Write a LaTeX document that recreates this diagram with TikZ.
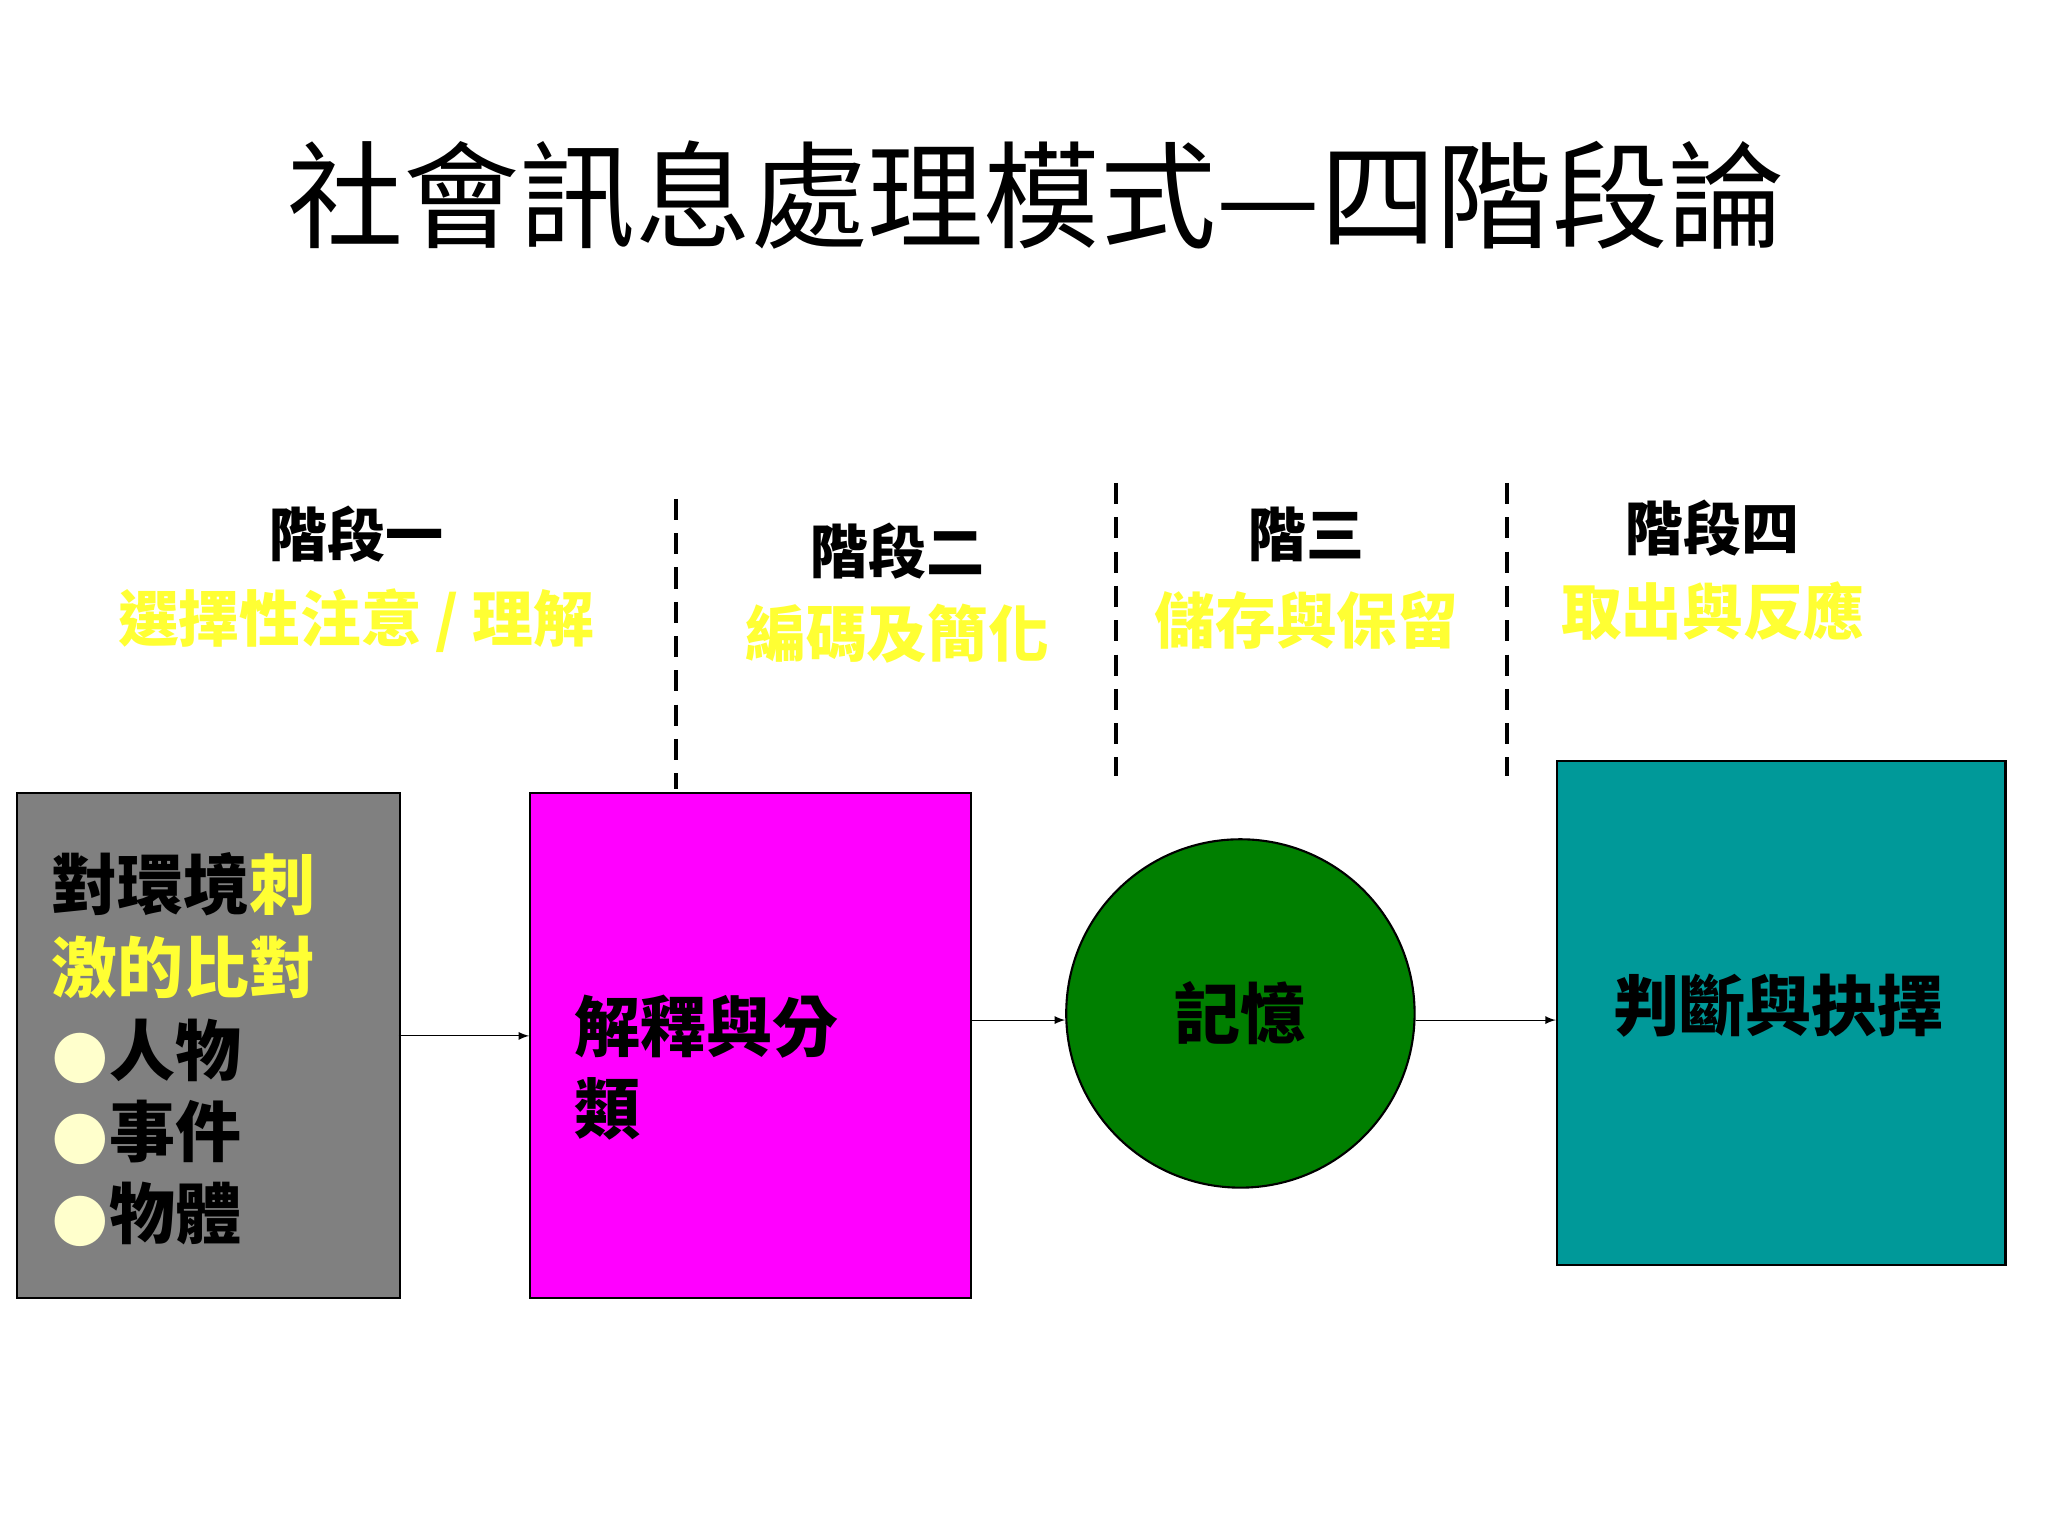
\documentclass[tikz,border=0pt]{standalone}
\usepackage{fontspec}
\setmainfont{Noto Sans CJK TC}
\newfontfamily\cjkb[BoldFont={* Bold}]{Noto Sans CJK TC}
\newfontfamily\symf{DejaVu Sans}
\definecolor{yel}{HTML}{FFFF33}
\definecolor{bul}{HTML}{FFFFCC}
\definecolor{grayf}{HTML}{808080}
\definecolor{mag}{HTML}{FF00FF}
\definecolor{grn}{HTML}{007F00}
\definecolor{teal2}{HTML}{009999}
\begin{document}
\begin{tikzpicture}[x=0.5pt,y=-0.5pt,
  stagelbl/.style={font=\fontsize{22}{26}\selectfont\bfseries},
  yellbl/.style={font=\fontsize{23}{27}\selectfont\bfseries,text=yel},
  dline/.style={line width=1.6pt,dash pattern=on 8pt off 5pt},
  boxtxt/.style={font=\fontsize{25}{31}\selectfont\bfseries},
  arr/.style={-latex}]
\useasboundingbox (0,0) rectangle (1552,1164);
\fill[white] (0,0) rectangle (1552,1164);
\node (title) at (785,148) {\fontsize{44}{50}\selectfont 社會訊息處理模式—四階段論};
\node[stagelbl] (s1) at (270,405) {階段一};
\node[stagelbl] (s2) at (680,418) {階段二};
\node[stagelbl] (s3) at (990,405) {階三};
\node[stagelbl] (s4) at (1298,400) {階段四};
\node[yellbl] (y1) at (270,470) {選擇性注意 / 理解};
\node[yellbl] (y2) at (680,480) {編碼及簡化};
\node[yellbl] (y3) at (990,470) {儲存與保留};
\node[yellbl] (y4) at (1298,463) {取出與反應};
\coordinate (d1a) at (512,378); \coordinate (d1b) at (512,598);
\coordinate (d2a) at (846,366); \coordinate (d2b) at (846,588);
\coordinate (d3a) at (1142,366); \coordinate (d3b) at (1142,588);
\draw[dline] (d1a) -- (d1b);
\draw[dline] (d2a) -- (d2b);
\draw[dline] (d3a) -- (d3b);
\node[draw,fill=grayf,minimum width=145pt,minimum height=191.5pt,anchor=north west,line width=0.8pt] (gray) at (12,600) {};
\node[boxtxt,anchor=west] (g1) at (32,670) {對環境\textcolor{yel}{刺}};
\node[boxtxt,anchor=west,text=yel] (g2) at (32,733) {激的比對};
\node[boxtxt,anchor=west] (g3) at (32,797) {\textcolor{bul}{\symf ●}人物};
\node[boxtxt,anchor=west] (g4) at (32,858) {\textcolor{bul}{\symf ●}事件};
\node[boxtxt,anchor=west] (g5) at (32,920) {\textcolor{bul}{\symf ●}物體};
\node[draw,fill=mag,minimum width=167pt,minimum height=191.5pt,anchor=north west,line width=0.8pt] (mbox) at (401,600) {};
\node[boxtxt,anchor=west] (m1) at (428,778) {解釋與分};
\node[boxtxt,anchor=west] (m2) at (428,840) {類};
\node[draw,fill=grn,circle,minimum size=132pt,line width=0.8pt] (mem) at (940,768) {};
\node[boxtxt] at (mem) {記憶};
\node[draw,fill=teal2,minimum width=170pt,minimum height=191pt,anchor=north west,line width=0.8pt] (tbox) at (1179,576) {};
\node[boxtxt] (t1) at (1348,762) {判斷與抉擇};
\draw[arr] (302,785) -- (401,785);
\draw[arr] (mbox.east |- 0,773) -- (mem.west |- 0,773);
\draw[arr] (mem.east |- 0,773) -- (tbox.west |- 0,773);
\end{tikzpicture}
\end{document}
